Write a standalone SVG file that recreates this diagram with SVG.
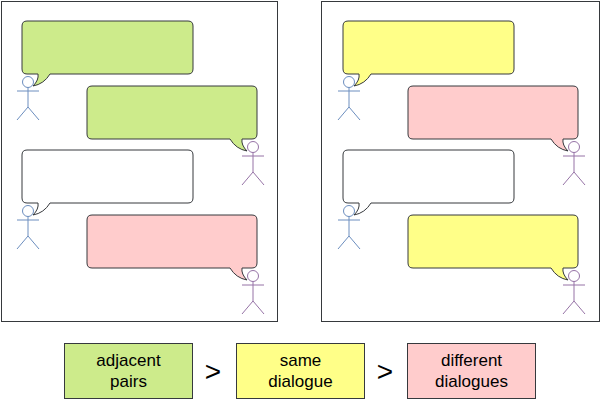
<svg xmlns="http://www.w3.org/2000/svg" width="602" height="409" viewBox="0 0 602 409">
<style>
.panel{fill:#fff;stroke:#36393d;stroke-width:1}
.b{stroke:#36393d;stroke-width:1}
.g{fill:#cdeb8b}.y{fill:#ffff88}.p{fill:#ffcccc}.w{fill:#fff}
.fb{fill:none;stroke:#6c8ebf}.fb circle{fill:#dae8fc}
.fp{fill:none;stroke:#9673a6}.fp circle{fill:#e1d5e7}
.t{font-family:"Liberation Sans",Arial,sans-serif;font-size:17px;text-anchor:middle;fill:#000}
.gt{font-family:"Liberation Sans",Arial,sans-serif;font-size:28px;text-anchor:middle;fill:#000}
</style>
<defs>
<path id="L" d="M5,0 H166 Q171,0 171,5 V48 Q171,53 166,53 H28 Q22,63 11,65 Q17,59 16,53 H5 Q0,53 0,48 V5 Q0,0 5,0 Z"/>
<path id="R" d="M5,0 H165 Q170,0 170,5 V48 Q170,53 165,53 H155 Q154,59 160,65 Q149,63 143,53 H5 Q0,53 0,48 V5 Q0,0 5,0 Z"/>
<g id="fig"><circle cx="0" cy="0" r="5.5"/><path d="M0,5.5 V25 M-11,9 H11 M-11,38 L0,25 L11,38"/></g>
</defs>
<g id="panel-left">
<rect class="panel" x="1.5" y="1.5" width="276" height="320"/>
<use href="#L" class="b g" x="22" y="21"/>
<use href="#R" class="b g" x="87" y="86"/>
<use href="#L" class="b w" x="22" y="150"/>
<use href="#R" class="b p" x="87" y="215"/>
<use href="#fig" class="fb" x="28" y="82"/>
<use href="#fig" class="fp" x="253" y="147"/>
<use href="#fig" class="fb" x="28" y="211"/>
<use href="#fig" class="fp" x="253" y="276"/>
</g>
<g id="panel-right">
<rect class="panel" x="321.5" y="1.5" width="278" height="320"/>
<use href="#L" class="b y" x="343" y="21"/>
<use href="#R" class="b p" x="408" y="86"/>
<use href="#L" class="b w" x="343" y="150"/>
<use href="#R" class="b y" x="408" y="215"/>
<use href="#fig" class="fb" x="349" y="82"/>
<use href="#fig" class="fp" x="574" y="147"/>
<use href="#fig" class="fb" x="349" y="211"/>
<use href="#fig" class="fp" x="574" y="276"/>
</g>
<g id="legend-adjacent"><rect class="b g" x="64.5" y="343.5" width="128" height="55"/><text class="t" x="128.5" y="366">adjacent</text><text class="t" x="128.5" y="387">pairs</text></g>
<g id="gt1"><text class="gt" x="213" y="381">&gt;</text></g>
<g id="legend-same"><rect class="b y" x="236.5" y="343.5" width="128" height="55"/><text class="t" x="300.5" y="366">same</text><text class="t" x="300.5" y="387">dialogue</text></g>
<g id="gt2"><text class="gt" x="385" y="381">&gt;</text></g>
<g id="legend-different"><rect class="b p" x="407.5" y="343.5" width="128" height="55"/><text class="t" x="471.5" y="366">different</text><text class="t" x="471.5" y="387">dialogues</text></g>
<g id="connectors"/>
</svg>
